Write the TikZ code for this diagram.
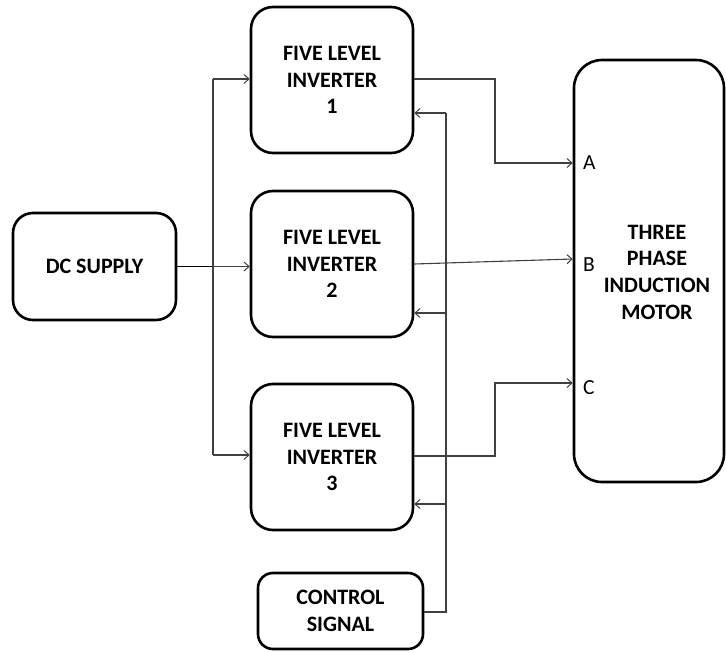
\documentclass[tikz,border=0pt]{standalone}
\usepackage{fontspec}
\setmainfont{Carlito}
\usetikzlibrary{arrows.meta,calc}
\begin{document}
\begin{tikzpicture}[x=1pt,y=-1pt,
  blk/.style={draw=black,line width=2.6pt,rounded corners=22pt,align=center,
    font=\bfseries\fontsize{22}{26.7}\selectfont,inner sep=0pt},
  conn/.style={draw=black!75,line width=1.1pt},
  arr/.style={conn,-{Straight Barb[length=5pt,width=9pt,line width=1pt]}},
  phase/.style={font=\fontsize{21.5}{26.7}\selectfont,inner sep=0pt,anchor=west}]
\useasboundingbox (0,0) rectangle (726,651);
% blocks
\node[blk,minimum width=163pt,minimum height=107pt,rounded corners=20pt] (dc) at (94.5,266.5) {DC SUPPLY};
\node[blk,minimum width=162pt,minimum height=146pt] (inv1) at (332,80) {FIVE LEVEL\\INVERTER\\1};
\node[blk,minimum width=162pt,minimum height=146pt] (inv2) at (332,264) {FIVE LEVEL\\INVERTER\\2};
\node[blk,minimum width=162pt,minimum height=146pt] (inv3) at (332,457) {FIVE LEVEL\\INVERTER\\3};
\node[blk,minimum width=165pt,minimum height=76pt,rounded corners=15pt] (ctrl) at (340.5,611) {CONTROL\\SIGNAL};
\node[blk,minimum width=150pt,minimum height=422pt,rounded corners=28pt] (motor) at (649,271) {};
\node[font=\bfseries\fontsize{22}{26.7}\selectfont,align=center,inner sep=0pt] (mtext) at (657,272) {THREE\\PHASE\\INDUCTION\\MOTOR};
% phase labels
\node[phase] (la) at (583,163) {A};
\node[phase] (lb) at (583,265) {B};
\node[phase] (lc) at (583,388) {C};
% DC bus
\coordinate (b1) at (213,79);
\coordinate (b3) at (213,455);
\draw[conn,line width=1.8pt,draw=black] (dc.east) -- (b1 |- dc.east);
\draw[arr] (b1 |- dc.east) -- (inv2.west |- dc.east);
\draw[conn] (b1) -- (b3);
\draw[arr] (b1) -- (b1 -| inv1.west);
\draw[arr] (b3) -- (b3 -| inv3.west);
% control bus
\coordinate (c1) at (446,113);
\coordinate (c2) at (446,313);
\coordinate (c3) at (446,504);
\coordinate (c4) at (446,612);
\draw[conn] (ctrl.east |- c4) -- (c4) -- (c1);
\draw[arr] (c1) -- (c1 -| inv1.east);
\draw[arr] (c2) -- (c2 -| inv2.east);
\draw[arr] (c3) -- (c3 -| inv3.east);
% outputs
\coordinate (o1) at (495,79);
\coordinate (o3) at (495,456);
\draw[arr] (inv1.east |- o1) -- (o1) -- (o1 |- la.west) -- (motor.west |- la.west);
\draw[arr] (inv2.east |- 0,264) -- (motor.west |- 0,259);
\draw[arr] (inv3.east |- o3) -- (o3) -- (o3 |- 0,383) -- (motor.west |- 0,383);
\end{tikzpicture}
\end{document}
